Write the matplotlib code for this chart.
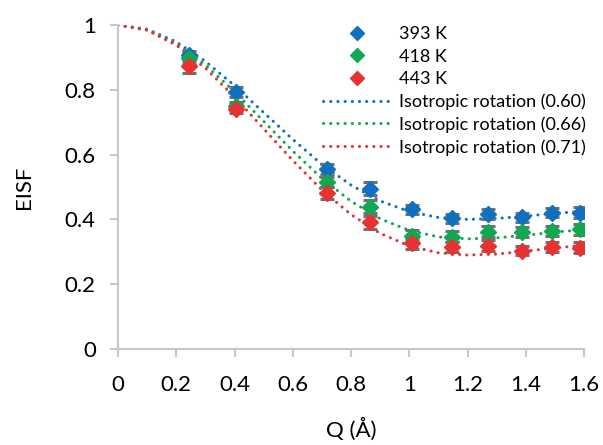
import numpy as np
import matplotlib
matplotlib.use('Agg')
import matplotlib.pyplot as plt
from matplotlib.lines import Line2D

plt.rcParams['font.family'] = ['Lato', 'DejaVu Sans']

# measured EISF points
q = [0.244, 0.405, 0.717, 0.865, 1.008, 1.148, 1.272, 1.386, 1.491, 1.586]
eisf_393 = [0.907, 0.793, 0.555, 0.494, 0.431, 0.403, 0.417, 0.406, 0.421, 0.421]
eisf_418 = [0.898, 0.750, 0.516, 0.439, 0.349, 0.347, 0.362, 0.362, 0.365, 0.370]
eisf_443 = [0.873, 0.741, 0.482, 0.391, 0.326, 0.314, 0.319, 0.303, 0.314, 0.313]
err_393 = [0.012, 0.015, 0.016, 0.020, 0.015, 0.013, 0.015, 0.014, 0.015, 0.016]
err_418 = [0.014, 0.012, 0.016, 0.020, 0.017, 0.016, 0.017, 0.016, 0.016, 0.017]
err_443 = [0.020, 0.014, 0.018, 0.020, 0.016, 0.016, 0.017, 0.014, 0.015, 0.016]

# isotropic rotation model curves
q_fit = [0.0, 0.1, 0.2, 0.3, 0.4, 0.5, 0.6, 0.7, 0.8, 0.9, 1.0, 1.1, 1.2, 1.3, 1.4, 1.5, 1.6]
fit_060 = [1.000, 0.987, 0.948, 0.888, 0.813, 0.730, 0.647, 0.570, 0.506, 0.457,
           0.424, 0.406, 0.400, 0.403, 0.410, 0.419, 0.425]
fit_066 = [1.000, 0.985, 0.943, 0.877, 0.794, 0.703, 0.611, 0.527, 0.456, 0.402,
           0.366, 0.346, 0.340, 0.343, 0.351, 0.361, 0.368]
fit_071 = [1.000, 0.984, 0.938, 0.867, 0.778, 0.680, 0.582, 0.491, 0.415, 0.357,
           0.318, 0.297, 0.290, 0.293, 0.302, 0.312, 0.320]

temps = ['393 K', '418 K', '443 K']
fit_labels = ['Isotropic rotation (0.60)', 'Isotropic rotation (0.66)', 'Isotropic rotation (0.71)']
colors = ['#1070C0', '#10A850', '#E83232']

xticks = [0, 0.2, 0.4, 0.6, 0.8, 1.0, 1.2, 1.4, 1.6]
xtick_labels = ['0', '0.2', '0.4', '0.6', '0.8', '1', '1.2', '1.4', '1.6']
yticks = [0, 0.2, 0.4, 0.6, 0.8, 1.0]
ytick_labels = ['0', '0.2', '0.4', '0.6', '0.8', '1']

fig = plt.figure(figsize=(6.03, 4.45), dpi=100)
ax = fig.add_axes([0.1957, 0.2157, 0.9685 - 0.1957, 0.9438 - 0.2157])

data = [eisf_393, eisf_418, eisf_443]
errs = [err_393, err_418, err_443]
fits = [fit_060, fit_066, fit_071]

# fits first so points sit on top
for f, c in zip(fits, colors):
    ax.plot(q_fit, f, color=c, lw=2.2, linestyle=(0, (0.05, 2.3)),
            dash_capstyle='round', zorder=2)

for d, e, c in zip(data, errs, colors):
    ax.errorbar(q, d, yerr=e, fmt='none', ecolor='#707070', elinewidth=1.8,
                capsize=5, capthick=2.2, zorder=3)
    ax.plot(q, d, 'D', color=c, ms=8.5, mec=c, zorder=4)

ax.set_xlim(0, 1.6)
ax.set_ylim(0, 1)
ax.set_xticks(xticks)
ax.set_xticklabels(xtick_labels)
ax.set_yticks(yticks)
ax.set_yticklabels(ytick_labels)

for s in ['top', 'right']:
    ax.spines[s].set_visible(False)
for s in ['left', 'bottom']:
    ax.spines[s].set_color('#C8C8C8')
    ax.spines[s].set_linewidth(1.5)
ax.tick_params(direction='out', length=6, width=1.5, color='#C8C8C8',
               labelsize=16, pad=10, labelcolor='black')
ax.tick_params(axis='x', pad=13)

ax.set_xlabel('Q (Å)', fontsize=16, labelpad=16)
ax.set_ylabel('EISF', fontsize=16, labelpad=22)

handles = [Line2D([], [], ls='none', marker='D', ms=7.5, color=c) for c in colors]
handles += [Line2D([], [], color=c, lw=2.2, linestyle=(0, (0.05, 2.3)),
                   dash_capstyle='round') for c in colors]
ax.legend(handles, temps + fit_labels, loc='upper left', bbox_to_anchor=(0.425, 1.018),
          frameon=False, fontsize=13, handlelength=3.7, handletextpad=0.5,
          labelspacing=0.35, borderaxespad=0)

fig.savefig('out.png', dpi=100)
